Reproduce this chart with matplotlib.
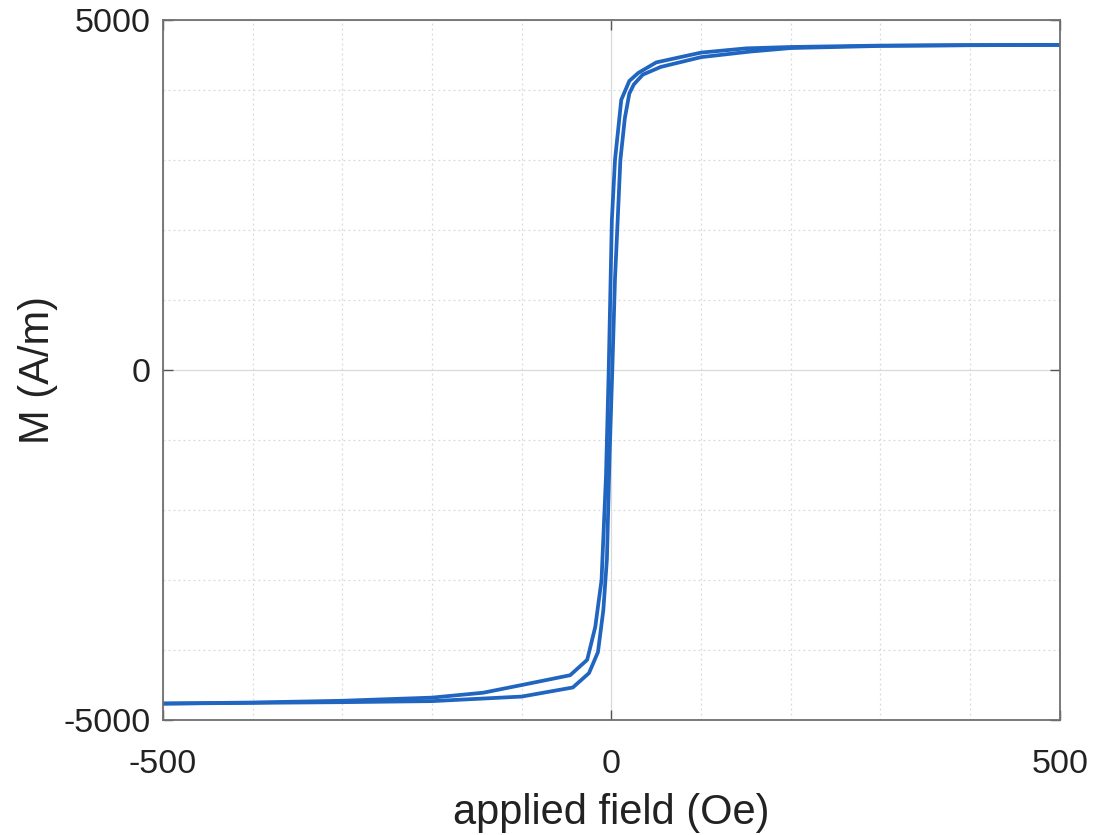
import matplotlib
matplotlib.use("Agg")
import matplotlib.pyplot as plt
from matplotlib.ticker import MultipleLocator

plt.rcParams['font.family'] = ['Liberation Sans', 'DejaVu Sans']
plt.rcParams['axes.unicode_minus'] = False

# ascending branch (field swept -500 -> 500)
h_up = [-500, -400, -300, -200, -100, -43, -25, -15, -9, -5, -2, 1, 4, 7, 10,
        15, 20, 25, 35, 55, 100, 155, 200, 300, 400, 500]
m_up = [-4765, -4755, -4745, -4730, -4665, -4535, -4330, -4030, -3430, -2700,
        -1200, 0, 1300, 2140, 3000, 3600, 3950, 4080, 4220, 4330, 4470, 4550,
        4600, 4630, 4640, 4645]

# descending branch (field swept 500 -> -500)
h_down = [500, 400, 300, 200, 150, 100, 50, 30, 20, 11, 4, 0.5, -3, -6, -11,
          -18, -27, -46, -100, -143, -200, -300, -400, -500]
m_down = [4645, 4642, 4635, 4615, 4595, 4535, 4395, 4245, 4130, 3860, 3000,
          2140, 0, -1500, -3000, -3670, -4140, -4360, -4500, -4610, -4680,
          -4725, -4750, -4765]

line_color = '#2065c0'

fig = plt.figure(figsize=(10.96, 8.35), dpi=100)
ax = fig.add_axes([0.1487, 0.1377, 0.8183, 0.8383])

ax.plot(h_up, m_up, color=line_color, lw=2.7, solid_joinstyle='round')
ax.plot(h_down, m_down, color=line_color, lw=2.7, solid_joinstyle='round')

ax.set_xlim(-500, 500)
ax.set_ylim(-5000, 5000)
ax.set_xticks([-500, 0, 500])
ax.set_yticks([-5000, 0, 5000])
ax.xaxis.set_minor_locator(MultipleLocator(100))
ax.yaxis.set_minor_locator(MultipleLocator(1000))

ax.grid(True, which='major', color='#d9d9d9', lw=0.9, ls='-')
ax.grid(True, which='minor', color='#d9d9d9', lw=0.9, ls=(0, (1.5, 2.5)))
ax.set_axisbelow(True)

for s in ax.spines.values():
    s.set_color('#707070')
    s.set_linewidth(1.3)

ax.tick_params(which='major', direction='in', length=7, width=1.0,
               color='#555555', top=True, right=True, labelsize=24.5,
               labelcolor='#222222')
ax.tick_params(axis='x', pad=21)
ax.tick_params(axis='y', pad=9)
ax.tick_params(which='minor', length=0)

ax.set_xlabel('applied field (Oe)', fontsize=30, color='#222222', labelpad=9)
ax.set_ylabel('M (A/m)', fontsize=30, color='#222222', labelpad=4)

fig.savefig('out.png', dpi=100)
